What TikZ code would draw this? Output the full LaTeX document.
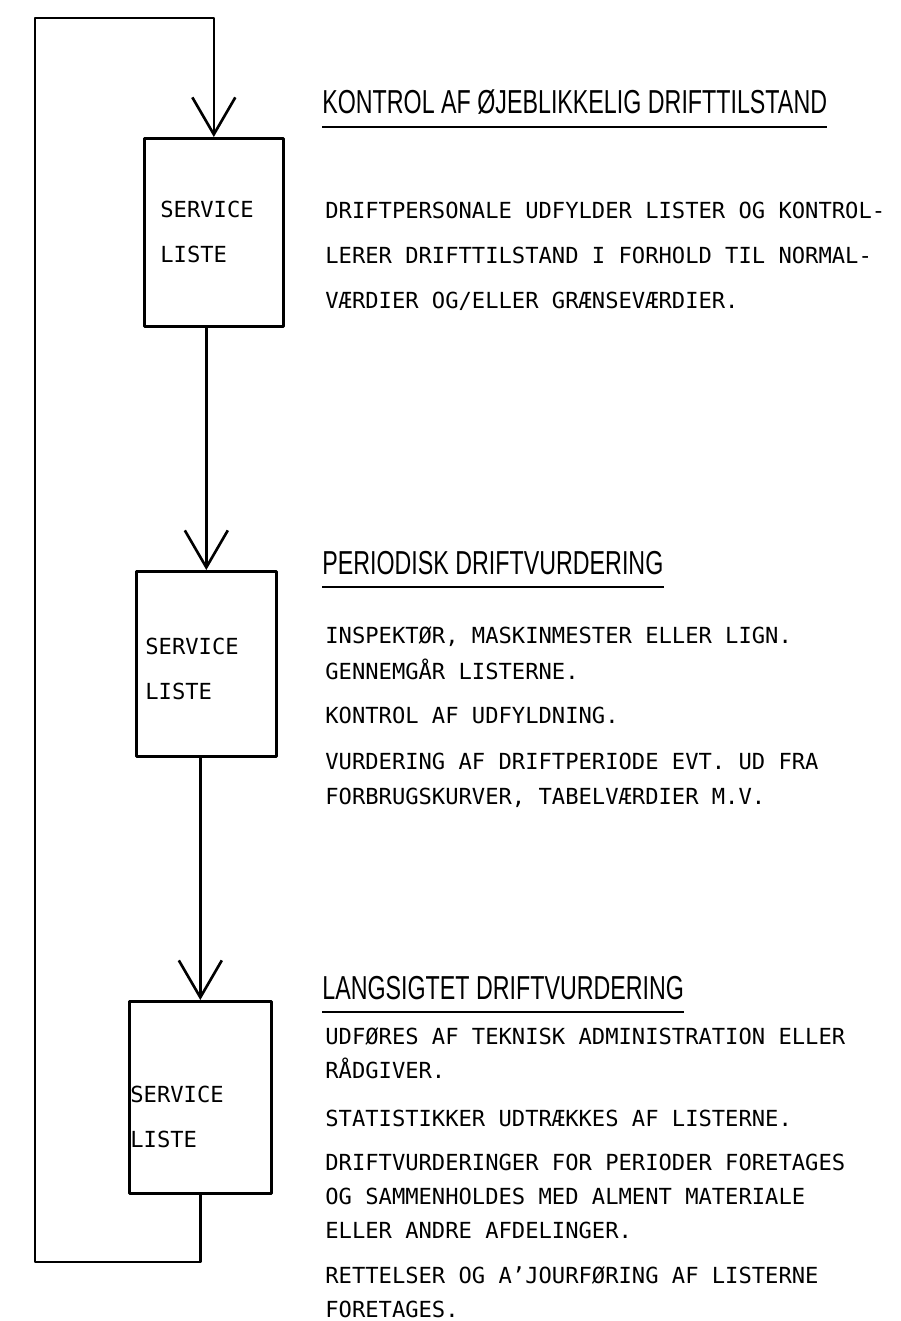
\documentclass[tikz,border=0pt]{standalone}
\usepackage{fontspec}
\setmonofont{DejaVu Sans Mono}
\newfontfamily\headfont[FakeStretch=0.70]{Liberation Sans}
\usetikzlibrary{arrows.meta,positioning,calc}

\begin{document}
\begin{tikzpicture}[line join=round]
\tikzset{listbox/.style={draw,line width=1.5pt,minimum width=2.8cm,minimum height=3.76cm,anchor=north west,inner sep=0pt}, lbl/.style={font=\ttfamily\fontsize{12.6}{14}\selectfont,anchor=base west,inner sep=0pt}, head/.style={font=\headfont\fontsize{18.9}{20}\selectfont,anchor=base west,inner sep=0pt}, rule/.style={line width=1pt}, flow/.style={line width=1.5pt,-{Straight Barb[length=0.74cm,width=0.86cm,line width=1.5pt]}}}
\useasboundingbox[fill=white] (0,0) rectangle (18.02,-26.42);
% service lists
\node[listbox,minimum width=2.78cm] (box1) at (2.86,-2.74) {};
\node[listbox,minimum height=3.70cm] (box2) at (2.70,-11.40) {};
\node[listbox,minimum width=2.84cm,minimum height=3.84cm] (box3) at (2.56,-20.00) {};
\foreach \b/\dx/\dy in {box1/0.34/1.62,box2/0.20/1.68,box3/0.04/2.04}{\node[lbl] at ($(\b.north west)+(\dx,-\dy)$) {SERVICE}; \node[lbl] at ($(\b.north west)+(\dx,-\dy-0.90)$) {LISTE};}
% flow down and the loop back to the top
\coordinate (lb) at (0.70,-25.24);
\coordinate (lt) at (0.70,-0.36);
\draw[flow] (box1.south -| box2.north) -- (box2.north);
\draw[flow] (box2.south -| box3.north) -- (box3.north);
\draw[flow] (box3.south) |- (lb) -- (lt) -| (box1.north);
% section 1
\node[head] (h1) at (6.44,-2.28) {KONTROL AF ØJEBLIKKELIG DRIFTTILSTAND};
\draw[rule] ($(h1.base west)+(0,-0.26)$) -- ($(h1.base east)+(0,-0.26)$);
\foreach \y/\t in {4.38/{DRIFTPERSONALE UDFYLDER LISTER OG KONTROL-},5.28/{LERER DRIFTTILSTAND I FORHOLD TIL NORMAL-},6.18/{VÆRDIER OG/ELLER GRÆNSEVÆRDIER.}}{\node[lbl] at (6.50,-\y) {\t};}
% section 2
\node[head] (h2) at (6.44,-11.48) {PERIODISK DRIFTVURDERING};
\draw[rule] ($(h2.base west)+(0,-0.26)$) -- ($(h2.base east)+(0,-0.26)$);
\foreach \y/\t in {12.86/{INSPEKTØR, MASKINMESTER ELLER LIGN.},13.58/{GENNEMGÅR LISTERNE.},14.46/{KONTROL AF UDFYLDNING.},15.38/{VURDERING AF DRIFTPERIODE EVT. UD FRA},16.08/{FORBRUGSKURVER, TABELVÆRDIER M.V.}}{\node[lbl] at (6.50,-\y) {\t};}
% section 3
\node[head] (h3) at (6.44,-19.98) {LANGSIGTET DRIFTVURDERING};
\draw[rule] ($(h3.base west)+(0,-0.26)$) -- ($(h3.base east)+(0,-0.26)$);
\foreach \y/\t in {20.88/{UDFØRES AF TEKNISK ADMINISTRATION ELLER},21.56/{RÅDGIVER.},22.52/{STATISTIKKER UDTRÆKKES AF LISTERNE.},23.40/{DRIFTVURDERINGER FOR PERIODER FORETAGES},24.08/{OG SAMMENHOLDES MED ALMENT MATERIALE},24.76/{ELLER ANDRE AFDELINGER.},25.66/{RETTELSER OG A’JOURFØRING AF LISTERNE},26.34/{FORETAGES.}}{\node[lbl] at (6.50,-\y) {\t};}
\end{tikzpicture}
\end{document}
